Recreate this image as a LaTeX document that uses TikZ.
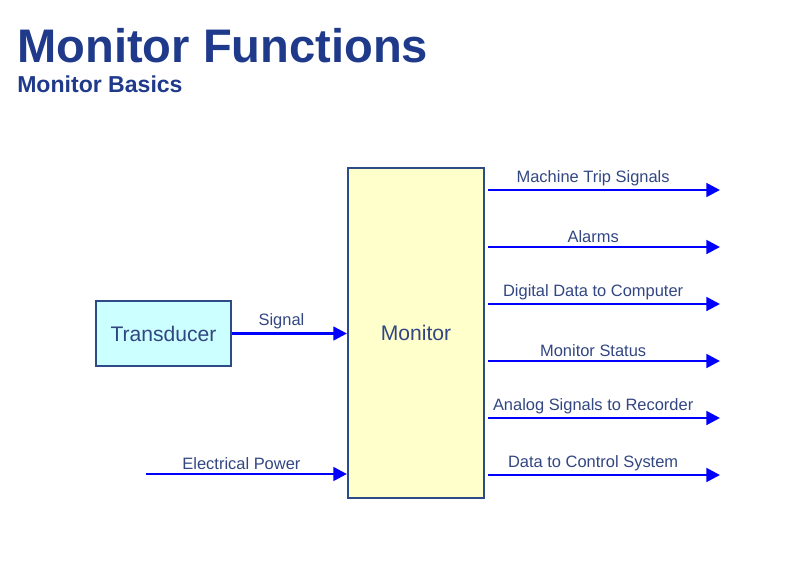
\documentclass[tikz,border=0pt]{standalone}
\usepackage{fontspec}
\setmainfont{Liberation Sans}
\usetikzlibrary{arrows.meta}

\definecolor{titleblue}{RGB}{31,58,138}
\definecolor{labelblue}{RGB}{50,70,130}
\definecolor{boxline}{RGB}{45,75,135}
\definecolor{monfill}{RGB}{255,255,204}
\definecolor{trfill}{RGB}{204,255,255}

\tikzset{
  blockbox/.style={draw=boxline, line width=1.5pt, text=labelblue, font=\fontsize{15}{18}\selectfont},
  sigline/.style={blue, line width=2pt, -{Triangle[length=3.4mm,width=3.4mm]}},
  siglabel/.style={above, text=labelblue, inner sep=2pt, font=\fontsize{11.7}{14}\selectfont}
}

\begin{document}
\begin{tikzpicture} [x=0.025cm, y=-0.025cm]
\useasboundingbox (0,0) rectangle (803,567);
% title
\node[anchor=base west, inner sep=0, text=titleblue, font=\bfseries\fontsize{33.5}{38}\selectfont] (title) at (17,62) {Monitor Functions};
\node[anchor=base west, inner sep=0, text=titleblue, font=\bfseries\fontsize{16.4}{20}\selectfont] (subtitle) at (17,92) {Monitor Basics};
% blocks
\node[blockbox, fill=monfill, minimum width=3.4cm, minimum height=8.25cm] (monitor) at (416,333) {Monitor};
\node[blockbox, fill=trfill, minimum width=3.375cm, minimum height=1.625cm] (transducer) at (163.5,333.5) {Transducer};
% inputs
\draw[sigline] (transducer.east) -- (transducer.east -| monitor.west) node[siglabel, pos=.43] {Signal};
\coordinate (power) at (146,474);
\draw[sigline] (power) -- (power -| monitor.west) node[siglabel, pos=.475] {Electrical Power};
% outputs
\foreach \y/\txt [count=\i] in {190/Machine Trip Signals, 247/Alarms, 304/Digital Data to Computer, 361/Monitor Status, 418/Analog Signals to Recorder, 475/Data to Control System} {
 \coordinate (out\i) at (720,\y);
 \draw[sigline, shorten <=2pt] (monitor.east |- out\i) -- (out\i) node[siglabel, pos=.46] {\txt};
}
\end{tikzpicture}
\end{document}
